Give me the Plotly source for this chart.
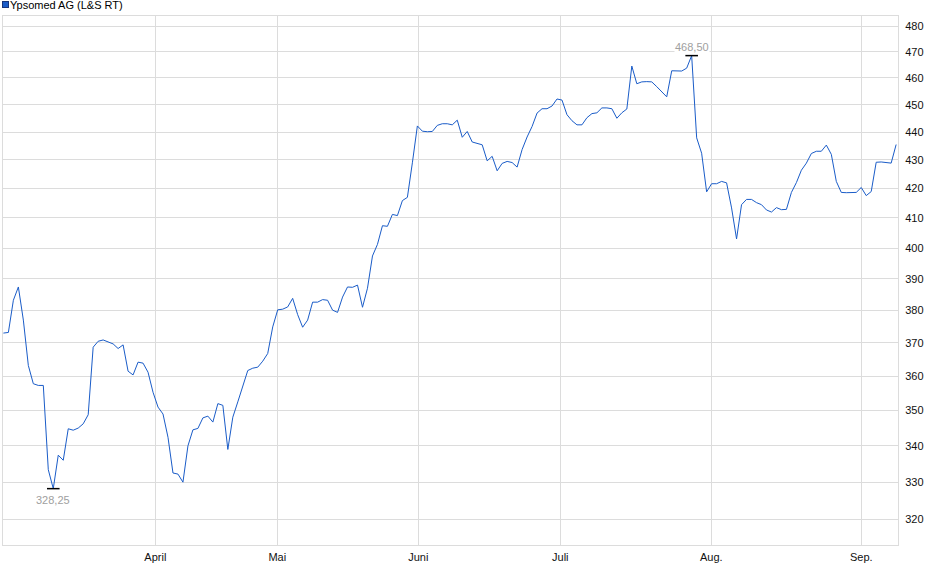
import math
import plotly.graph_objects as go

# closing prices, one per session
prices = [
    373.0, 373.2, 383.2, 387.4, 377.0, 363.2, 357.8, 357.3, 357.3, 333.4,
    328.25, 337.4, 336.0, 344.8, 344.4, 345.0, 346.2, 348.8, 368.7, 370.5,
    370.9, 370.4, 369.7, 368.3, 369.4, 361.5, 360.4, 364.2, 363.9, 361.2,
    355.3, 351.0, 349.0, 342.4, 332.5, 332.2, 330.0, 340.0, 344.5, 344.9,
    347.9, 348.4, 346.7, 352.0, 351.5, 339.0, 348.1, 352.5, 357.4, 361.7,
    362.4, 362.7, 364.5, 366.8, 374.9, 380.2, 380.4, 381.1, 383.8, 378.7,
    374.8, 377.0, 382.6, 382.6, 383.4, 383.2, 380.1, 379.4, 384.2, 387.4,
    387.3, 388.0, 381.0, 387.0, 397.4, 401.2, 407.4, 407.2, 411.2, 410.8,
    415.9, 417.0, 429.0, 442.2, 440.3, 440.1, 440.2, 442.4, 443.0, 443.0,
    442.6, 444.3, 438.1, 440.2, 436.4, 436.0, 435.4, 429.7, 431.3, 426.2,
    428.8, 429.5, 429.1, 427.5, 433.7, 438.2, 442.0, 446.9, 448.5, 448.5,
    449.5, 452.1, 451.7, 446.3, 444.1, 442.6, 442.6, 445.2, 446.7, 447.0,
    448.8, 448.8, 448.5, 445.0, 447.0, 448.4, 464.5, 457.8, 458.5, 458.6,
    458.5, 456.7, 454.9, 452.9, 462.7, 462.6, 462.6, 463.7, 468.5, 437.9,
    432.4, 418.9, 421.7, 421.7, 422.5, 422.0, 413.4, 403.0, 414.5, 416.3,
    416.3, 415.2, 414.5, 412.7, 412.0, 413.5, 412.8, 412.9, 418.7, 422.1,
    426.4, 428.9, 432.3, 433.1, 433.1, 435.3, 432.0, 422.5, 418.7, 418.6,
    418.7, 418.7, 420.4, 417.6, 419.0, 429.2, 429.3, 429.2, 428.9, 435.5,
]
sessions = list(range(len(prices)))

month_names = ["April", "Mai", "Juni", "Juli", "Aug.", "Sep."]
month_pos = [30.46, 54.92, 83.19, 111.66, 141.93, 172.01]
y_ticks = list(range(320, 481, 10))

blue = "#1a5cc8"
grid = "#dcdcdc"
font = "Liberation Sans, Arial, sans-serif"

lo = prices.index(min(prices))
hi = prices.index(max(prices))


def de_num(v):
    return f"{v:.2f}".replace(".", ",")


fig = go.Figure()
fig.add_trace(go.Scatter(x=sessions, y=prices, mode="lines",
                         line=dict(color=blue, width=1), showlegend=False))
fig.add_trace(go.Scatter(x=[lo, hi], y=[prices[lo], prices[hi]], mode="markers",
                         marker=dict(symbol="line-ew", size=9,
                                     line=dict(width=1.5, color="black")),
                         showlegend=False))

# low / high labels
fig.add_annotation(x=lo, y=math.log10(prices[lo]), text=de_num(prices[lo]),
                   showarrow=False, yshift=-11, font=dict(size=11, color="#a0a0a0", family=font))
fig.add_annotation(x=hi, y=math.log10(prices[hi]), text=de_num(prices[hi]),
                   showarrow=False, yshift=9, bgcolor="white", borderpad=0,
                   font=dict(size=11, color="#a0a0a0", family=font))

# legend box + name
fig.add_annotation(xref="paper", yref="paper", x=0, y=1, xanchor="left", yanchor="middle",
                   xshift=-1, yshift=12, text=" ", width=5, height=5, borderpad=0,
                   bgcolor=blue, bordercolor="#17347a", borderwidth=1, showarrow=False)
fig.add_annotation(xref="paper", yref="paper", x=0, y=1, xanchor="left", yanchor="middle",
                   xshift=5, yshift=11, text="Ypsomed AG (L&amp;S RT)", showarrow=False,
                   font=dict(size=11, color="black", family=font))

fig.update_layout(
    width=940, height=579,
    margin=dict(l=3, r=42, t=16, b=34),
    plot_bgcolor="white", paper_bgcolor="white",
    font=dict(family=font, size=11, color="#111"),
    xaxis=dict(range=[-0.08, 179.37], tickmode="array", tickvals=month_pos,
               ticktext=month_names, showgrid=True, gridcolor=grid, zeroline=False,
               showline=True, linecolor=grid, mirror=True, ticks="", ticklabelstandoff=2),
    yaxis=dict(type="log", side="right", range=[math.log10(313.4), math.log10(484)],
               tickmode="array", tickvals=y_ticks, ticktext=[str(v) for v in y_ticks],
               showgrid=True, gridcolor=grid, zeroline=False,
               showline=True, linecolor=grid, mirror=True, ticks="", ticklabelstandoff=4),
)

# page body has a default margin; drop it so the chart sits at the window corner
fig.write_html("out.html", config={"displayModeBar": False},
               post_script="document.body.style.margin='0';")
